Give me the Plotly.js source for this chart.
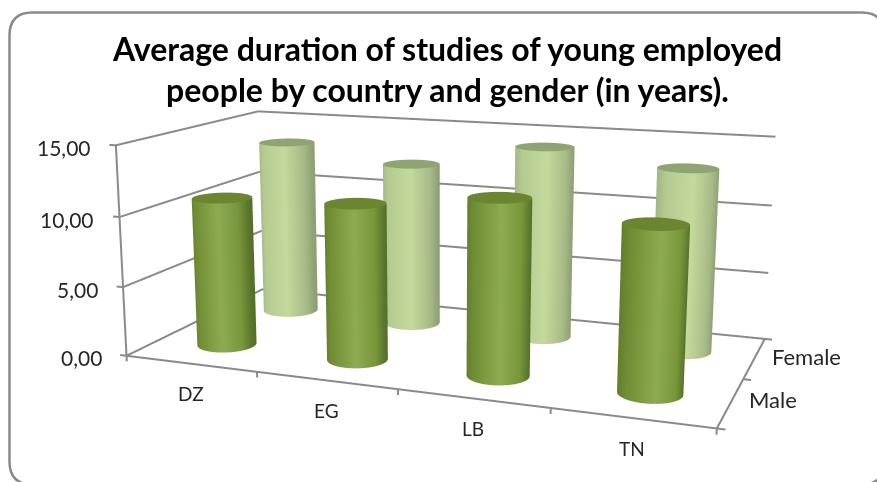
<!DOCTYPE html>
<html><head><meta charset="utf-8"><script src="https://cdn.plot.ly/plotly-3.0.0.min.js"></script>
<style>html,body{margin:0;overflow:hidden;background:#fff;width:877px;height:482px}#g{position:absolute}</style></head>
<body><div id="g"></div><script>
// Average duration of studies, in years
const countries=['DZ','EG','LB','TN'];
const genders=['Male','Female'];
const male=[10.8,11.1,12.2,11.2];
const female=[13.4,12.3,14.15,13.2];
const zTicks=[0,5,10,15];
const zTickText=['0,00','5,00','10,00','15,00'];

const W=2080,H=1143,PW=877,PH=482;
const offX=(W-PW)/2,offY=(H-PH)/2;
const gd=document.getElementById('g');
gd.style.left=-offX+'px';gd.style.top=-offY+'px';
const fx=x=>(x+offX)/W,fy=y=>1-(y+offY)/H;

// Rounded chart frame
const bx0=9,by0=12,bx1=884,by1=484,rad=23;
const sx=x=>fx(x).toFixed(5),sy=y=>fy(y).toFixed(5);
const framePath=`M ${sx(bx0+rad)} ${sy(by0)} L ${sx(bx1-rad)} ${sy(by0)} Q ${sx(bx1)} ${sy(by0)} ${sx(bx1)} ${sy(by0+rad)} L ${sx(bx1)} ${sy(by1-rad)} Q ${sx(bx1)} ${sy(by1)} ${sx(bx1-rad)} ${sy(by1)} L ${sx(bx0+rad)} ${sy(by1)} Q ${sx(bx0)} ${sy(by1)} ${sx(bx0)} ${sy(by1-rad)} L ${sx(bx0)} ${sy(by0+rad)} Q ${sx(bx0)} ${sy(by0)} ${sx(bx0+rad)} ${sy(by0)} Z`;

// Walls, floor and tick marks
const lx=[],ly=[],lz=[];
function seg(a,b){lx.push(a[0],b[0],null);ly.push(a[1],b[1],null);lz.push(a[2],b[2],null);}
zTicks.forEach(z=>{seg([0,0,z],[0,2,z]);seg([0,2,z],[4,2,z]);seg([-0.05,0,z],[0,0,z]);});
seg([0,0,0],[0,0,15]);seg([0,0,0],[4,0,0]);seg([4,0,0],[4,2,0]);
[0,1,2,3,4].forEach(x=>seg([x,0,0],[x,0,-0.4]));
[0,1,2].forEach(y=>seg([4,y,0],[4.05,y,0]));
const traces=[{type:'scatter3d',mode:'lines',x:lx,y:ly,z:lz,line:{color:'#8a8a8a',width:4},hoverinfo:'skip'}];

// Cylinders: a shaded side wall plus a flat top
const R=0.205,RY=R*1.0185,N=64,THV=-1.29;
const flat={ambient:1,diffuse:0,specular:0,fresnel:0,roughness:1};
const noContours={x:{show:false},y:{show:false},z:{show:false}};
function cylinder(cx,cy,h,scale,cap){
  const X=[[],[]],Y=[[],[]],Z=[[],[]],C=[[],[]];
  for(let i=0;i<=N;i++){const t=2*Math.PI*i/N;
    const u=Math.cos(t-(THV+Math.PI/2));
    [0,1].forEach(r=>{X[r].push(cx+R*Math.cos(t));Y[r].push(cy+RY*Math.sin(t));Z[r].push(r?h:0);C[r].push((u+1)/2);});}
  traces.push({type:'surface',x:X,y:Y,z:Z,surfacecolor:C,cmin:0,cmax:1,colorscale:scale,showscale:false,hoverinfo:'skip',lighting:flat,contours:noContours});
  const XT=[[],[]],YT=[[],[]],ZT=[[],[]],CT=[[],[]];
  for(let i=0;i<=N;i++){const t=2*Math.PI*i/N;
    [0,1].forEach(r=>{XT[r].push(cx+r*R*Math.cos(t));YT[r].push(cy+r*RY*Math.sin(t));ZT[r].push(h);CT[r].push(0.5);});}
  traces.push({type:'surface',x:XT,y:YT,z:ZT,surfacecolor:CT,cmin:0,cmax:1,colorscale:[[0,cap],[1,cap]],showscale:false,hoverinfo:'skip',lighting:flat,contours:noContours});
}
const maleScale=[[0,'#647f2d'],[0.12,'#718d35'],[0.55,'#8eab4f'],[0.85,'#78963a'],[1,'#55702a']];
const femaleScale=[[0,'#a3b885'],[0.12,'#b4ca90'],[0.55,'#c4d99c'],[0.85,'#a9bc88'],[1,'#8d9f74']];
countries.forEach((c,i)=>{cylinder(i+0.5,1.5,female[i],femaleScale,'#8fa473');});
countries.forEach((c,i)=>{cylinder(i+0.5,0.5,male[i],maleScale,'#6b8530');});

// Tick labels, anchored to the axes in scene coordinates
const lab='Lato, Carlito, sans-serif';
const annos=[];
countries.forEach((c,i)=>annos.push({x:i+0.5,y:0,z:0,text:c,showarrow:false,xshift:0,yshift:-30,font:{family:lab,size:19,color:'#262626'}}));
const serShift=[[42,3],[52,2]];
genders.forEach((g,i)=>annos.push({x:4,y:i+0.5,z:0,text:g,showarrow:false,xshift:serShift[i][0],yshift:serShift[i][1],font:{family:lab,size:22,color:'#262626'}}));
zTicks.forEach((z,i)=>annos.push({x:0,y:0,z:z,text:zTickText[i],showarrow:false,xanchor:'right',xshift:-23,yshift:-2,font:{family:lab,size:21,color:'#262626'}}));

const axis=r=>({visible:false,range:r,autorange:false});
const layout={width:W,height:H,margin:{l:0,r:0,t:0,b:0},showlegend:false,
  title:{text:'Average duration of studies of young employed<br>people by country and gender (in years).',x:fx(447),y:fy(60),xanchor:'center',yanchor:'middle',font:{family:lab,size:32,color:'#000',weight:700}},
  shapes:[{type:'path',xref:'paper',yref:'paper',path:framePath,line:{color:'#8a8a8a',width:2.5},layer:'above'}],
  scene:{domain:{x:[0,1],y:[0,1]},
    xaxis:axis([-0.2,4.2]),yaxis:axis([-0.2,2.2]),zaxis:axis([-0.75,15.75]),
    aspectmode:'manual',aspectratio:{x:2*4.4/4,y:0.9818*2.4/2,z:0.7221*16.5/15},
    camera:{eye:{x:1.6012,y:-4.3171,z:1.0228},center:{x:-0.0908,y:0.1085,z:-0.0145},up:{x:0.0044,y:0,z:1}},
    annotations:annos}};
Plotly.newPlot(gd,traces,layout,{displayModeBar:false});
</script></body></html>
